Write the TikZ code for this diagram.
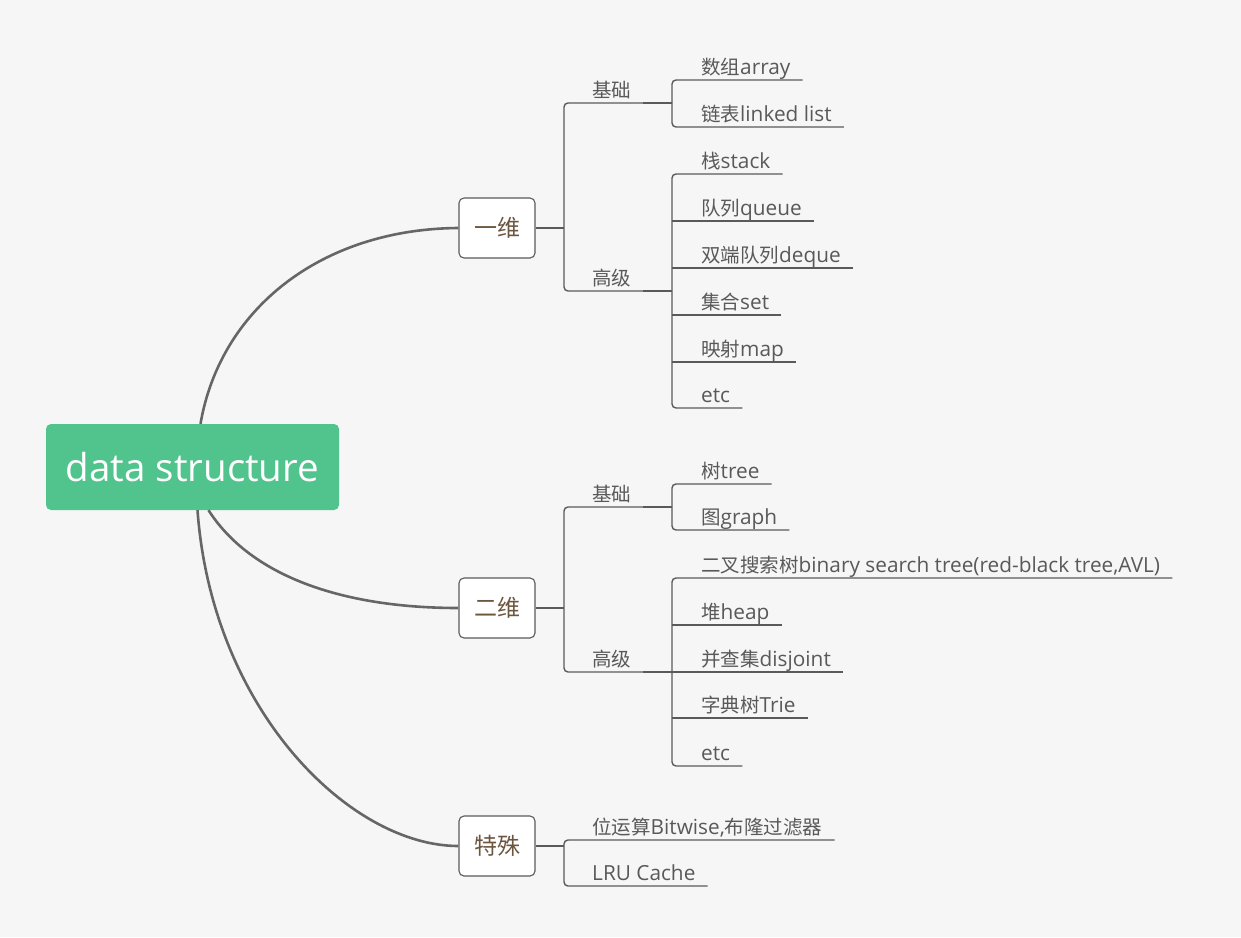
\documentclass[tikz,border=0pt]{standalone}
\usepackage{fontspec}
\setmainfont{Open Sans}
\newfontfamily\cjk{Noto Sans CJK SC}
\newcommand\cn[1]{{\fontsize{19.5}{21}\selectfont\cjk #1}}
\definecolor{bgcol}{HTML}{F6F6F6}
\definecolor{rootgreen}{HTML}{50C48C}
\definecolor{curvegray}{HTML}{666666}
\definecolor{linegray}{HTML}{5A5A5A}
\definecolor{leafgray}{HTML}{595959}
\definecolor{boxbrown}{HTML}{6B563F}
\tikzset{
  root/.style={fill=rootgreen,rounded corners=5pt,minimum width=293pt,minimum height=86pt,
    text=white,font=\fontsize{38.5}{40}\selectfont},
  topic/.style={fill=white,draw=linegray,line width=1.1pt,rounded corners=5pt,
    minimum width=76pt,minimum height=60pt,text=boxbrown,font=\fontsize{23}{25}\selectfont\cjk},
  leaf/.style={anchor=south west,inner xsep=12pt,inner ysep=0pt,text depth=5pt,
    text=leafgray,font=\fontsize{20.8}{22}\selectfont},
  uline/.style={draw=linegray,line width=1.4pt},
  joint/.style={draw=linegray,line width=2.2pt},
  branch/.style={draw=curvegray,line width=2.6pt}
}
\begin{document}
\begin{tikzpicture}[x=1pt,y=-1pt]
  \fill[bgcol] (0,0) rectangle (1241,937);
  \useasboundingbox (0,0) rectangle (1241,937);

  % Hauptknoten und drei Themen
  \node[root] (ds) at (192.5,467) {\raisebox{-2.5pt}{data structure}};
  \node[topic] (one) at (497,228) {一维};
  \node[topic] (two) at (497,608) {二维};
  \node[topic] (spec) at (497,846) {特殊};

  % geschwungene Verbindungen
  \draw[branch] ([xshift=8pt]ds.north) .. controls (220,310) and (320,229) .. (one.west);
  \draw[branch] ([xshift=16pt]ds.south) .. controls (250,575) and (340,608) .. (two.west);
  \draw[branch] ([xshift=5pt]ds.south) .. controls (212,710) and (350,846) .. (spec.west);

  % x-Lage der Klammern
  \coordinate (kA) at (564,0);
  \coordinate (kB) at (672,0);

  % Zwischenstufen
  \foreach \nm/\yy/\txt in {f1/103/基础, f2/291/高级, f3/507/基础, f4/672/高级}
    \node[leaf] (\nm) at (580,\yy) {\cn{\txt}};

  % Blaetter
  \foreach \nm/\yy/\txt in {a1/80/{\cn{数组}array}, a2/127/{\cn{链表}linked list},
      b1/174/{\cn{栈}stack}, b2/221/{\cn{队列}queue}, b3/268/{\cn{双端队列}deque},
      b4/315/{\cn{集合}set}, b5/362/{\cn{映射}map}, b6/408/etc,
      c1/484/{\cn{树}tree}, c2/530/{\cn{图}graph},
      d1/578/{\cn{二叉搜索树}binary search tree(red-black tree,AVL)}, d2/625/{\cn{堆}heap},
      d3/672/{\cn{并查集}disjoint}, d4/718/{\cn{字典树}Trie}, d5/766/etc}
    \node[leaf] (\nm) at (689,\yy) {\txt};
  \foreach \nm/\yy/\txt in {e1/840/{\cn{位运算}Bitwise,\cn{布隆过滤器}}, e2/886/LRU Cache}
    \node[leaf] (\nm) at (580,\yy) {\txt};

  % 一维
  \draw[uline] (one.east) -- (one.east -| kA);
  \draw[uline,rounded corners=4pt] (f1.south east -| kB) -- (f1.south east -| kA)
    -- (f2.south east -| kA) -- (f2.south east -| kB);
  \draw[joint] (f1.south east) -- (f1.south east -| kB);
  \draw[joint] (f2.south east) -- (f2.south east -| kB);
  \draw[uline,rounded corners=4pt] (a1.south east) -- (a1.south east -| kB)
    -- (a2.south east -| kB) -- (a2.south east);
  \draw[uline,rounded corners=4pt] (b1.south east) -- (b1.south east -| kB)
    -- (b6.south east -| kB) -- (b6.south east);
  \foreach \nm in {b2,b3,b4,b5}
    \draw[uline] (\nm.south east) -- (\nm.south east -| kB);

  % 二维
  \draw[uline] (two.east) -- (two.east -| kA);
  \draw[uline,rounded corners=4pt] (f3.south east -| kB) -- (f3.south east -| kA)
    -- (f4.south east -| kA) -- (f4.south east -| kB);
  \draw[joint] (f3.south east) -- (f3.south east -| kB);
  \draw[joint] (f4.south east) -- (f4.south east -| kB);
  \draw[uline,rounded corners=4pt] (c1.south east) -- (c1.south east -| kB)
    -- (c2.south east -| kB) -- (c2.south east);
  \draw[uline,rounded corners=4pt] (d1.south east) -- (d1.south east -| kB)
    -- (d5.south east -| kB) -- (d5.south east);
  \foreach \nm in {d2,d3,d4}
    \draw[uline] (\nm.south east) -- (\nm.south east -| kB);

  % 特殊
  \draw[uline] (spec.east) -- (spec.east -| kA);
  \draw[uline,rounded corners=4pt] (e1.south east) -- (e1.south east -| kA)
    -- (e2.south east -| kA) -- (e2.south east);
\end{tikzpicture}
\end{document}
